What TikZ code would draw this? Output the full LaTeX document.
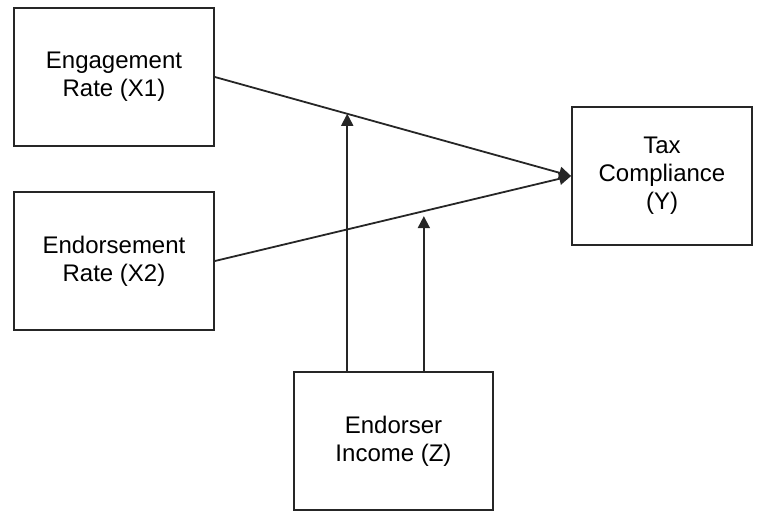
\documentclass[tikz,border=0pt]{standalone}
\usepackage{fontspec}
\setmainfont{Liberation Sans}
\usetikzlibrary{arrows.meta,calc}
\begin{document}
\begin{tikzpicture}[x=1pt,y=-1pt,
  box/.style={draw=black!85,line width=1.8pt,rectangle,align=center,inner sep=0pt,
    font=\fontsize{24}{28}\selectfont},
  arr/.style={draw=black!85,line width=1.8pt,-{Triangle[length=12pt,width=12pt]}}]
\useasboundingbox (0,0) rectangle (763,511);
\node[box,minimum width=200pt,minimum height=138pt] (x1) at (114,77) {Engagement\\Rate (X1)};
\node[box,minimum width=200pt,minimum height=138pt] (x2) at (114,261) {Endorsement\\Rate (X2)};
\node[box,minimum width=180pt,minimum height=138pt] (y) at (662,176) {Tax\\Compliance\\(Y)};
\node[box,minimum width=199pt,minimum height=138pt] (z) at (393.5,441) {Endorser\\Income (Z)};
\draw[arr] (x1.east) -- (y.west);
\draw[arr] (x2.east) -- (y.west);
\coordinate (p1) at ($(x1.east)!0.3715!(y.west)$);
\coordinate (p2) at ($(x2.east)!0.5866!(y.west)$);
\draw[arr] (z.north -| p1) -- (p1);
\draw[arr,shorten >=5pt] (z.north -| p2) -- (p2);
\end{tikzpicture}
\end{document}
